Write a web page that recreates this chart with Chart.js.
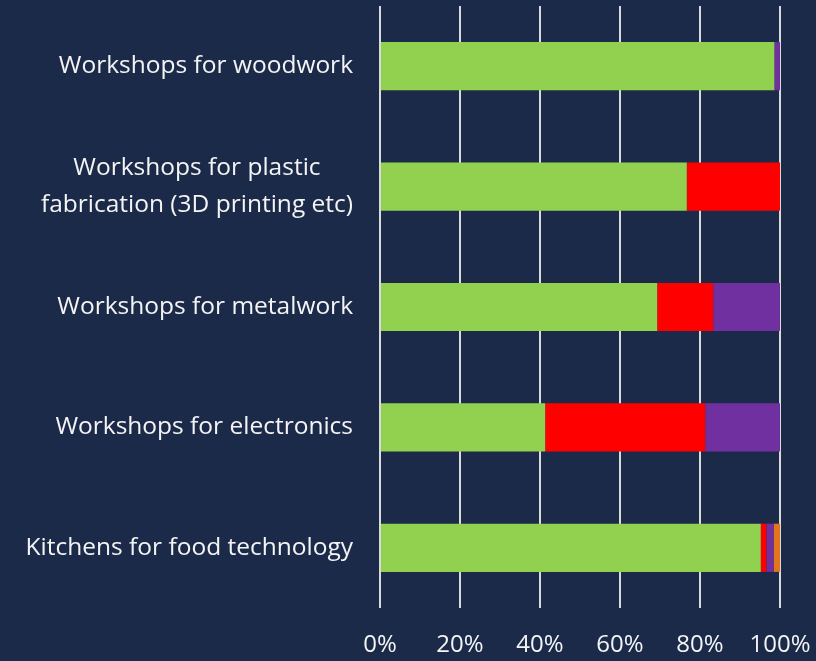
<!DOCTYPE html>
<html>
<head>
<meta charset="utf-8">
<script src="https://cdn.jsdelivr.net/npm/chart.js@4"></script>
<style>
  html, body { margin: 0; padding: 0; background: #1c2a4a; }
  #wrap { width: 816px; height: 661px; position: relative; }
</style>
</head>
<body>
<div id="wrap"><canvas id="chart"></canvas></div>
<script>
const categories = [
  ["Workshops for woodwork"],
  ["Workshops for plastic", "fabrication (3D printing etc)"],
  ["Workshops for metalwork"],
  ["Workshops for electronics"],
  ["Kitchens for food technology"]
]
const greenValues = [98.6, 76.7, 69.3, 41.3, 95.2]
const redValues = [0, 23.3, 14.0, 40.0, 1.4]
const purpleValues = [1.4, 0, 16.7, 18.7, 1.8]
const orangeValues = [0, 0, 0, 0, 1.6]
const xTicks = [0, 20, 40, 60, 80, 100]

const labelFont = "24.5px 'Open Sans'"
const textColor = "#f4f4f4"

// y labels: block right-aligned, lines centred on each other
const categoryLabels = {
  id: "categoryLabels",
  afterDraw(chart) {
    const { ctx } = chart
    const y = chart.scales.y
    const right = y.right - 27
    const lineHeight = 37
    ctx.save()
    ctx.font = labelFont
    ctx.fillStyle = textColor
    ctx.textAlign = "center"
    ctx.textBaseline = "middle"
    categories.forEach((lines, i) => {
      const cy = y.getPixelForTick(i)
      const w = Math.max(...lines.map(l => ctx.measureText(l).width))
      const cx = right - w / 2
      const top = cy - (lines.length - 1) * lineHeight / 2
      lines.forEach((line, j) => ctx.fillText(line, cx, top + j * lineHeight))
    })
    ctx.restore()
  }
}

const bar = (label, data, color) => ({
  label, data, backgroundColor: color, borderWidth: 0,
  barPercentage: 0.4, categoryPercentage: 1
})

new Chart(document.getElementById("chart"), {
  type: "bar",
  data: {
    labels: categories.map(c => c.join(" ")),
    datasets: [
      bar("Green", greenValues, "#92d050"),
      bar("Red", redValues, "#ff0000"),
      bar("Purple", purpleValues, "#7030a0"),
      bar("Orange", orangeValues, "#e2761f")
    ]
  },
  options: {
    indexAxis: "y",
    responsive: true,
    maintainAspectRatio: false,
    animation: false,
    layout: { padding: { top: 6, right: 36, bottom: 1, left: 0 } },
    plugins: {
      legend: { display: false },
      tooltip: { enabled: false }
    },
    scales: {
      x: {
        stacked: true,
        min: 0,
        max: 100,
        afterBuildTicks(scale) {
          scale.ticks = xTicks.map(v => ({ value: v }))
        },
        afterFit(scale) {
          scale.height = 52
          scale.paddingLeft = 0
          scale.paddingRight = 0
        },
        border: { display: false },
        grid: { color: "#d9d9d9", lineWidth: 2, drawTicks: false },
        ticks: {
          color: textColor,
          padding: 23,
          font: { family: "'Open Sans'", size: 24 },
          callback: v => v + "%"
        }
      },
      y: {
        stacked: true,
        afterFit(scale) { scale.width = 380 },
        border: { display: false },
        grid: { display: false },
        ticks: { display: false }
      }
    }
  },
  plugins: [categoryLabels]
})
</script>
</body>
</html>
